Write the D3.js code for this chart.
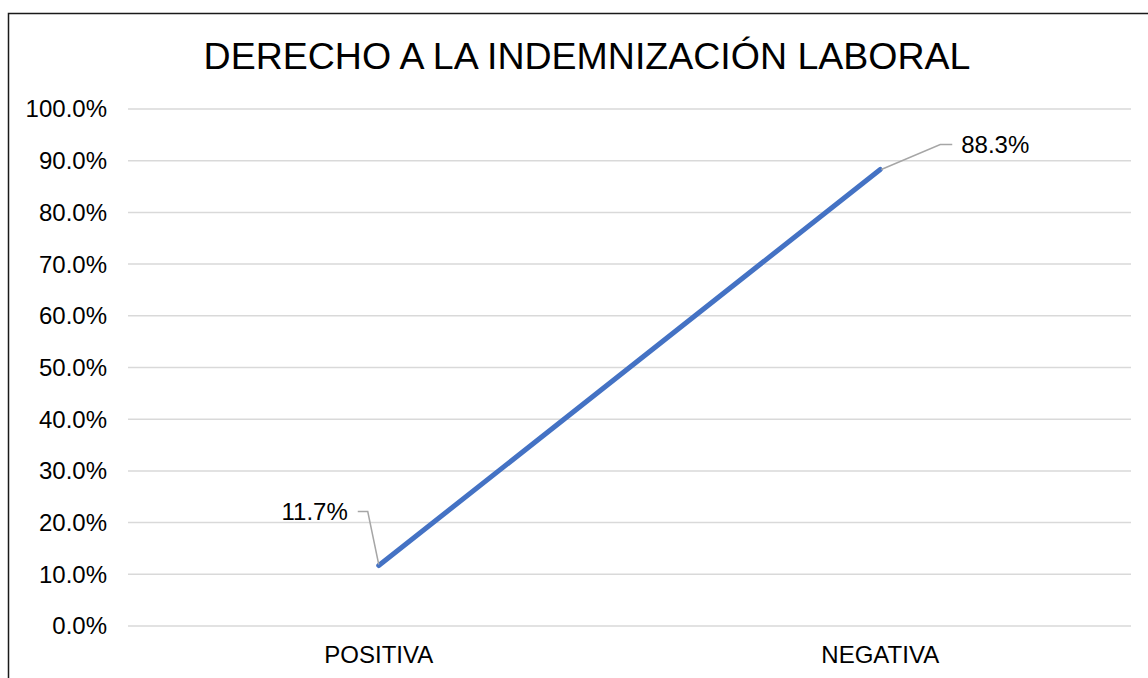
<!DOCTYPE html>
<html lang="es">
<head>
  <meta charset="UTF-8">
  <title>Derecho a la indemnización laboral</title>
  <style>
    body { margin: 0; background: #fff; font-family: "Liberation Sans", Arial, sans-serif; }
    svg  { display: block; }
    .grid line { stroke: #d9d9d9; stroke-width: 1.5px; }
    .tick-label { font-size: 24px; fill: #000; }
    .series { fill: none; stroke: #4472c4; stroke-width: 5px; stroke-linecap: round; }
    .leader { fill: none; stroke: #a6a6a6; stroke-width: 1.5px; }
  </style>
</head>
<body>
  <svg id="chart" width="1148" height="678"></svg>

  <script src="https://d3js.org/d3.v7.min.js"></script>
  <script>
    /* ---------- data ---------- */
    const categories = ['POSITIVA', 'NEGATIVA'];
    const values     = [0.117, 0.883];
    const yTicks     = [0, 0.1, 0.2, 0.3, 0.4, 0.5, 0.6, 0.7, 0.8, 0.9, 1.0];
    const title      = 'DERECHO A LA INDEMNIZACIÓN LABORAL';

    /* ---------- layout ---------- */
    const plot = { left: 128, right: 1131, top: 109, bottom: 626 };

    const svg = d3.select('#chart');

    // chart frame (only top / left edges are visible in the crop)
    svg.append('rect')
       .attr('x', 8.5).attr('y', 13.5)
       .attr('width', 1160).attr('height', 700)
       .attr('fill', '#fff')
       .attr('stroke', '#1a1a1a')
       .attr('stroke-width', 1.5);

    const x = d3.scaleBand()
                .domain(categories)
                .range([plot.left, plot.right]);

    const y = d3.scaleLinear()
                .domain([0, 1])
                .range([plot.bottom, plot.top]);

    // title
    svg.append('text')
       .attr('x', 587).attr('y', 69)
       .attr('text-anchor', 'middle')
       .style('font-size', '37.5px')
       .text(title);

    // gridlines
    svg.append('g').attr('class', 'grid')
       .selectAll('line')
       .data(yTicks)
       .enter().append('line')
       .attr('x1', plot.left).attr('x2', plot.right)
       .attr('y1', d => y(d)).attr('y2', d => y(d));

    // y labels
    const pct = d3.format('.1%');
    svg.append('g')
       .selectAll('text')
       .data(yTicks)
       .enter().append('text')
       .attr('class', 'tick-label')
       .attr('x', 107)
       .attr('y', d => y(d))
       .attr('dy', '0.35em')
       .attr('text-anchor', 'end')
       .text(d => pct(d));

    // x labels
    svg.append('g')
       .selectAll('text')
       .data(categories)
       .enter().append('text')
       .attr('class', 'tick-label')
       .attr('x', d => x(d) + x.bandwidth() / 2)
       .attr('y', 663)
       .attr('text-anchor', 'middle')
       .text(d => d);

    // series line
    const pts = categories.map((c, i) => ({ cat: c, v: values[i] }));
    const cx = d => x(d.cat) + x.bandwidth() / 2;

    svg.append('path')
       .datum(pts)
       .attr('class', 'series')
       .attr('d', d3.line().x(cx).y(d => y(d.v)));

    // data labels with leader lines
    const p0 = pts[0], p1 = pts[1];
    svg.append('path')
       .attr('class', 'leader')
       .attr('d', `M${cx(p0) - 21},${y(p0.v) - 54} H${cx(p0) - 11} L${cx(p0)},${y(p0.v) - 1}`);
    svg.append('text')
       .attr('class', 'tick-label')
       .attr('x', cx(p0) - 31).attr('y', y(p0.v) - 54)
       .attr('dy', '0.35em')
       .attr('text-anchor', 'end')
       .text(pct(p0.v));

    svg.append('path')
       .attr('class', 'leader')
       .attr('d', `M${cx(p1) + 1},${y(p1.v)} L${cx(p1) + 60},${y(p1.v) - 25} H${cx(p1) + 72}`);
    svg.append('text')
       .attr('class', 'tick-label')
       .attr('x', cx(p1) + 81).attr('y', y(p1.v) - 25)
       .attr('dy', '0.35em')
       .text(pct(p1.v));
  </script>
</body>
</html>
